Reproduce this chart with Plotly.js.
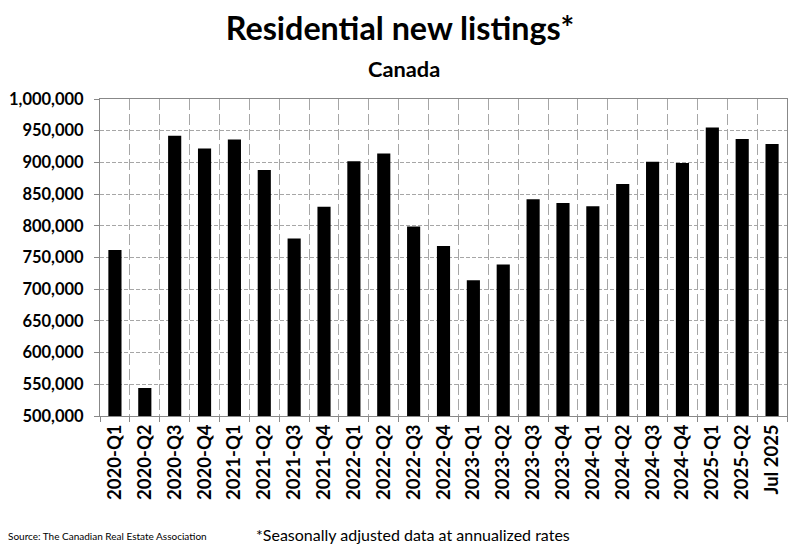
<!DOCTYPE html>
<html>
<head>
<meta charset="utf-8">
<script src="https://cdn.plot.ly/plotly-3.0.1.min.js"></script>
<style>html,body{margin:0;padding:0;background:#fff;}#chart{width:800px;height:548px;}</style>
</head>
<body>
<div id="chart"></div>
<script>
const categories = ["2020-Q1","2020-Q2","2020-Q3","2020-Q4","2021-Q1","2021-Q2","2021-Q3","2021-Q4",
  "2022-Q1","2022-Q2","2022-Q3","2022-Q4","2023-Q1","2023-Q2","2023-Q3","2023-Q4",
  "2024-Q1","2024-Q2","2024-Q3","2024-Q4","2025-Q1","2025-Q2","Jul 2025"];
const newListings = [762000,544000,942000,922000,936000,888000,780000,830000,
  902000,914000,799000,768000,714000,739000,842000,836000,
  831000,866000,901000,899000,955000,937000,929000];
const yTickVals = [500000,550000,600000,650000,700000,750000,800000,850000,900000,950000,1000000];

const FONT = "Lato, 'Open Sans', sans-serif";

const trace = {
  type: "bar",
  x: categories,
  y: newListings,
  marker: {color: "#000000", line: {color: "#000000", width: 0}},
  hoverinfo: "x+y"
};

const layout = {
  width: 800, height: 548,
  margin: {l: 100, r: 13, t: 99, b: 132},
  paper_bgcolor: "#ffffff",
  plot_bgcolor: "#ffffff",
  bargap: 0.56,
  showlegend: false,
  font: {family: FONT, color: "#000"},
  title: {
    text: "<b>Residential new listings*</b>",
    font: {family: FONT, size: 32.3, color: "#000"},
    x: 0.5, xanchor: "center", y: 0.947, yanchor: "middle"
  },
  xaxis: {
    type: "category",
    tickson: "boundaries",
    ticks: "outside", ticklen: 5, tickcolor: "#888",
    tickangle: -90,
    tickfont: {family: FONT, size: 18.5, color: "#000", weight: "bold"},
    showgrid: true, gridcolor: "#a6a6a6", griddash: "11px,4px", gridwidth: 1,
    showline: true, linecolor: "#888", linewidth: 1, mirror: true,
    range: [-0.5, categories.length - 0.5],
    fixedrange: true
  },
  yaxis: {
    range: [500000, 1000000],
    tickvals: yTickVals,
    tickformat: ",d",
    ticks: "outside", ticklen: 5, tickcolor: "#888",
    ticklabelstandoff: 7,
    tickfont: {family: FONT, size: 16.5, color: "#000", weight: "bold"},
    showgrid: true, gridcolor: "#a6a6a6", griddash: "4px,2px", gridwidth: 1,
    showline: true, linecolor: "#888", linewidth: 1, mirror: true,
    zeroline: false,
    fixedrange: true
  },
  annotations: [
    {text: "<b>Canada</b>", xref: "paper", yref: "paper", x: 0.5, xshift: -40, y: 1, xanchor: "center", yanchor: "middle",
     yshift: 31, showarrow: false, font: {family: FONT, size: 21.8, color: "#000"}},
    {text: "Source: The Canadian Real Estate Association", xref: "paper", yref: "paper",
     x: 0, xshift: -94, y: 0, yshift: -120, xanchor: "left", yanchor: "middle", showarrow: false,
     font: {family: FONT, size: 10, color: "#000"}},
    {text: "*Seasonally adjusted data at annualized rates", xref: "paper", yref: "paper",
     x: 0, xshift: 154, y: 0, yshift: -118, xanchor: "left", yanchor: "middle", showarrow: false,
     font: {family: FONT, size: 16, color: "#000"}}
  ]
};

Plotly.newPlot("chart", [trace], layout, {displayModeBar: false, staticPlot: true});
</script>
</body>
</html>
